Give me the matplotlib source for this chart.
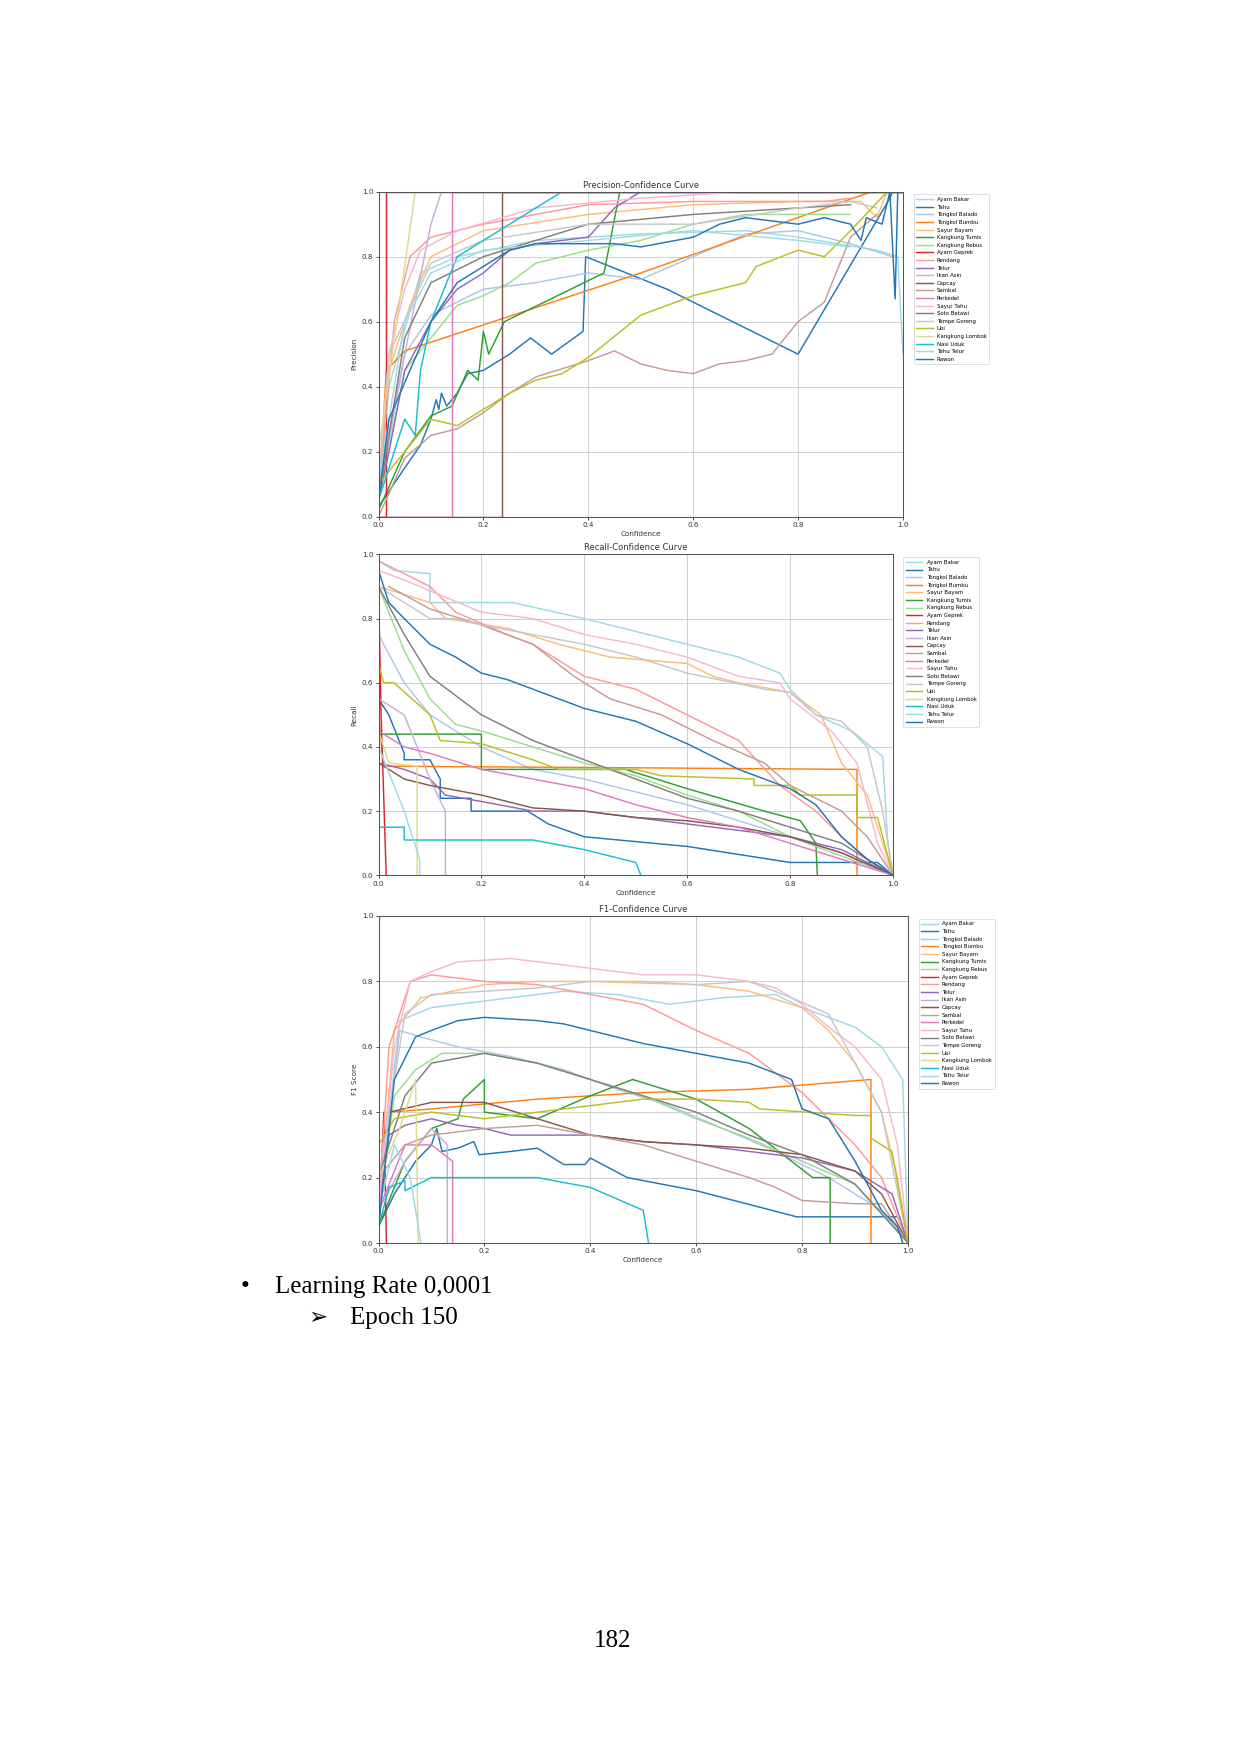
import matplotlib
matplotlib.use("Agg")
import matplotlib.pyplot as plt
import numpy as np

# class names and line colours (legend order)
class_names = ["Ayam Bakar", "Tahu", "Tongkol Balado", "Tongkol Bumbu", "Sayur Bayam",
               "Kangkung Tumis", "Kangkung Rebus", "Ayam Geprek", "Rendang", "Telur",
               "Ikan Asin", "Capcay", "Sambal", "Perkedel", "Sayur Tahu", "Soto Betawi",
               "Tempe Goreng", "Ubi", "Kangkung Lombok", "Nasi Uduk", "Tahu Telur", "Rawon"]
class_colors = ["#9edae5", "#1f77b4", "#aec7e8", "#ff7f0e", "#ffbb78", "#2ca02c", "#98df8a",
                "#d62728", "#ff9896", "#9467bd", "#c5b0d5", "#8c564b", "#c49c94", "#e377c2",
                "#f7b6d2", "#7f7f7f", "#c7c7c7", "#bcbd22", "#dbdb8d", "#17becf", "#9edae5",
                "#1f77b4"]

# precision vs confidence, [conf, value] points per class
prec_curves = [
    [[0, 0.05], [0.02, 0.4], [0.08, 0.75], [0.15, 0.8], [0.3, 0.85], [0.5, 0.87], [0.7, 0.88], [0.8, 0.86], [0.95, 0.82], [0.99, 0.8], [1.0, 0.5]],
    [[0, 0.03], [0.05, 0.15], [0.08, 0.22], [0.1, 0.3], [0.11, 0.36], [0.115, 0.33], [0.12, 0.38], [0.13, 0.34], [0.15, 0.38], [0.17, 0.44], [0.2, 0.45], [0.25, 0.5], [0.29, 0.55], [0.33, 0.5], [0.39, 0.57], [0.395, 0.8], [0.55, 0.7], [0.8, 0.5], [0.975, 0.98], [0.98, 1.0]],
    [[0, 0.05], [0.05, 0.5], [0.1, 0.62], [0.2, 0.7], [0.3, 0.72], [0.4, 0.75], [0.5, 0.73], [0.6, 0.8], [0.7, 0.87], [0.8, 0.88], [0.9, 0.84], [0.98, 0.8]],
    [[0, 0.05], [0.015, 0.45], [0.05, 0.51], [0.5, 0.75], [0.94, 1.0], [1.0, 1.0]],
    [[0, 0.05], [0.02, 0.45], [0.06, 0.65], [0.1, 0.8], [0.2, 0.88], [0.4, 0.93], [0.6, 0.96], [0.8, 0.97], [0.92, 0.97], [0.95, 0.92], [0.97, 1.0]],
    [[0, 0.02], [0.05, 0.2], [0.1, 0.31], [0.14, 0.34], [0.17, 0.45], [0.19, 0.42], [0.2, 0.57], [0.21, 0.5], [0.24, 0.6], [0.43, 0.75], [0.46, 1.0]],
    [[0, 0.05], [0.05, 0.45], [0.1, 0.55], [0.15, 0.65], [0.2, 0.68], [0.25, 0.72], [0.3, 0.78], [0.4, 0.82], [0.5, 0.85], [0.6, 0.9], [0.7, 0.93], [0.9, 0.93]],
    [[0, 0.0], [0.015, 0.0], [0.015, 1.0], [1.0, 1.0]],
    [[0, 0.05], [0.03, 0.6], [0.06, 0.8], [0.1, 0.86], [0.2, 0.9], [0.3, 0.93], [0.4, 0.96], [0.6, 0.97], [0.85, 0.97], [0.9, 0.98]],
    [[0, 0.05], [0.02, 0.2], [0.05, 0.45], [0.1, 0.6], [0.15, 0.7], [0.2, 0.75], [0.25, 0.82], [0.3, 0.84], [0.4, 0.86], [0.45, 0.95], [0.5, 1.0]],
    [[0, 0.1], [0.05, 0.5], [0.1, 0.9], [0.12, 1.0]],
    [[0, 0.0], [0.235, 0.0], [0.235, 1.0], [1.0, 1.0]],
    [[0, 0.0], [0.05, 0.18], [0.1, 0.25], [0.15, 0.27], [0.2, 0.32], [0.25, 0.38], [0.3, 0.43], [0.4, 0.48], [0.45, 0.51], [0.5, 0.47], [0.55, 0.45], [0.6, 0.44], [0.65, 0.47], [0.7, 0.48], [0.75, 0.5], [0.8, 0.6], [0.85, 0.66], [0.9, 0.86], [0.95, 0.93]],
    [[0, 0.0], [0.14, 0.0], [0.14, 1.0], [1.0, 1.0]],
    [[0, 0.1], [0.02, 0.5], [0.05, 0.7], [0.08, 0.82], [0.15, 0.88], [0.3, 0.95], [0.5, 0.98], [0.7, 1.0]],
    [[0, 0.05], [0.05, 0.55], [0.1, 0.72], [0.2, 0.8], [0.3, 0.85], [0.4, 0.9], [0.6, 0.93], [0.8, 0.95], [0.9, 0.96]],
    [[0, 0.1], [0.02, 0.5], [0.1, 0.78], [0.2, 0.85], [0.4, 0.9], [0.6, 0.9], [0.8, 0.95], [0.9, 0.97], [0.95, 0.95]],
    [[0, 0.1], [0.05, 0.2], [0.1, 0.3], [0.15, 0.28], [0.2, 0.33], [0.25, 0.38], [0.3, 0.42], [0.35, 0.44], [0.4, 0.49], [0.5, 0.62], [0.6, 0.68], [0.7, 0.72], [0.72, 0.77], [0.8, 0.82], [0.85, 0.8], [0.9, 0.88], [0.97, 1.0]],
    [[0, 0.2], [0.07, 1.0]],
    [[0, 0.05], [0.05, 0.3], [0.07, 0.25], [0.08, 0.45], [0.1, 0.6], [0.15, 0.8], [0.25, 0.9], [0.35, 1.0]],
    [[0, 0.1], [0.05, 0.6], [0.1, 0.75], [0.2, 0.82], [0.4, 0.85], [0.6, 0.88], [0.8, 0.85], [0.9, 0.83]],
    [[0, 0.05], [0.02, 0.3], [0.1, 0.6], [0.15, 0.72], [0.25, 0.82], [0.3, 0.84], [0.45, 0.84], [0.5, 0.83], [0.6, 0.86], [0.65, 0.9], [0.7, 0.92], [0.8, 0.9], [0.85, 0.92], [0.9, 0.9], [0.92, 0.85], [0.93, 0.92], [0.96, 0.9], [0.975, 1.0], [0.985, 0.67], [0.99, 1.0]],
]

# recall vs confidence
rec_curves = [
    [[0, 0.98], [0.03, 0.95], [0.1, 0.94], [0.1, 0.85], [0.26, 0.85], [0.4, 0.8], [0.5, 0.76], [0.6, 0.72], [0.7, 0.68], [0.78, 0.63], [0.8, 0.58], [0.85, 0.5], [0.92, 0.45], [0.98, 0.37], [0.99, 0.1], [1, 0]],
    [[0, 0.55], [0.02, 0.5], [0.05, 0.38], [0.05, 0.36], [0.1, 0.36], [0.12, 0.3], [0.12, 0.24], [0.18, 0.24], [0.18, 0.2], [0.29, 0.2], [0.33, 0.16], [0.4, 0.12], [0.6, 0.09], [0.8, 0.04], [0.97, 0.04], [1, 0]],
    [[0, 0.75], [0.05, 0.6], [0.1, 0.5], [0.15, 0.45], [0.2, 0.4], [0.3, 0.33], [0.4, 0.3], [0.5, 0.26], [0.6, 0.22], [0.7, 0.17], [0.8, 0.12], [0.9, 0.07], [1, 0]],
    [[0, 0.5], [0.01, 0.34], [0.5, 0.335], [0.93, 0.33], [0.93, 0.0]],
    [[0, 0.9], [0.1, 0.85], [0.13, 0.8], [0.25, 0.77], [0.35, 0.72], [0.45, 0.68], [0.6, 0.66], [0.65, 0.62], [0.7, 0.6], [0.8, 0.57], [0.86, 0.5], [0.9, 0.35], [0.95, 0.25], [1, 0]],
    [[0, 0.44], [0.2, 0.44], [0.2, 0.33], [0.48, 0.33], [0.6, 0.27], [0.75, 0.2], [0.82, 0.17], [0.85, 0.1], [0.853, 0.0]],
    [[0, 0.9], [0.05, 0.7], [0.1, 0.55], [0.15, 0.47], [0.2, 0.45], [0.3, 0.4], [0.4, 0.35], [0.5, 0.31], [0.6, 0.25], [0.7, 0.2], [0.8, 0.12], [0.9, 0.06], [1, 0]],
    [[0, 0.9], [0.005, 0.5], [0.015, 0.0]],
    [[0, 0.98], [0.1, 0.9], [0.15, 0.82], [0.25, 0.75], [0.3, 0.72], [0.4, 0.62], [0.5, 0.58], [0.6, 0.5], [0.7, 0.42], [0.78, 0.28], [0.85, 0.2], [0.9, 0.12], [0.95, 0.05], [1, 0]],
    [[0, 0.35], [0.05, 0.33], [0.1, 0.3], [0.13, 0.25], [0.2, 0.23], [0.3, 0.2], [0.4, 0.2], [0.5, 0.18], [0.6, 0.16], [0.7, 0.14], [0.8, 0.12], [0.9, 0.08], [1, 0]],
    [[0, 0.55], [0.05, 0.5], [0.1, 0.3], [0.13, 0.2], [0.13, 0.0]],
    [[0, 0.35], [0.05, 0.3], [0.1, 0.28], [0.2, 0.25], [0.3, 0.21], [0.4, 0.2], [0.5, 0.18], [0.6, 0.17], [0.7, 0.15], [0.8, 0.12], [0.9, 0.07], [1, 0]],
    [[0.02, 0.9], [0.1, 0.83], [0.2, 0.78], [0.3, 0.72], [0.38, 0.62], [0.45, 0.55], [0.55, 0.5], [0.65, 0.42], [0.75, 0.35], [0.8, 0.28], [0.9, 0.2], [0.95, 0.12], [1, 0]],
    [[0, 0.45], [0.05, 0.4], [0.1, 0.38], [0.2, 0.33], [0.3, 0.3], [0.4, 0.27], [0.5, 0.22], [0.6, 0.18], [0.7, 0.15], [0.8, 0.1], [0.9, 0.05], [1, 0]],
    [[0, 0.95], [0.05, 0.92], [0.2, 0.82], [0.3, 0.8], [0.4, 0.75], [0.5, 0.72], [0.6, 0.68], [0.7, 0.62], [0.78, 0.6], [0.8, 0.55], [0.88, 0.45], [0.93, 0.35], [0.97, 0.1], [1, 0]],
    [[0, 0.9], [0.05, 0.75], [0.1, 0.62], [0.2, 0.5], [0.3, 0.42], [0.4, 0.36], [0.5, 0.3], [0.6, 0.24], [0.7, 0.2], [0.8, 0.15], [0.9, 0.1], [1, 0]],
    [[0, 0.9], [0.1, 0.8], [0.15, 0.8], [0.2, 0.78], [0.3, 0.75], [0.4, 0.72], [0.5, 0.68], [0.6, 0.63], [0.75, 0.58], [0.8, 0.57], [0.85, 0.5], [0.9, 0.48], [0.95, 0.4], [0.98, 0.2], [1, 0]],
    [[0, 0.66], [0.01, 0.6], [0.03, 0.6], [0.1, 0.5], [0.12, 0.42], [0.2, 0.41], [0.3, 0.36], [0.35, 0.33], [0.5, 0.33], [0.55, 0.31], [0.73, 0.3], [0.73, 0.28], [0.8, 0.28], [0.82, 0.25], [0.93, 0.25], [0.93, 0.18], [0.97, 0.18], [1.0, 0.0]],
    [[0, 0.45], [0.02, 0.35], [0.075, 0.34], [0.075, 0.0]],
    [[0, 0.15], [0.05, 0.15], [0.05, 0.11], [0.3, 0.11], [0.4, 0.08], [0.5, 0.04], [0.51, 0.0]],
    [[0, 0.4], [0.05, 0.2], [0.08, 0.05], [0.08, 0.0]],
    [[0, 0.95], [0.02, 0.85], [0.05, 0.8], [0.1, 0.72], [0.15, 0.68], [0.2, 0.63], [0.25, 0.61], [0.3, 0.58], [0.4, 0.52], [0.5, 0.48], [0.6, 0.41], [0.7, 0.33], [0.8, 0.27], [0.85, 0.22], [0.9, 0.12], [0.95, 0.05], [1, 0]],
]

# F1 vs confidence
f1_curves = [
    [[0, 0.1], [0.04, 0.68], [0.1, 0.72], [0.2, 0.74], [0.35, 0.77], [0.45, 0.76], [0.55, 0.73], [0.65, 0.75], [0.75, 0.76], [0.8, 0.72], [0.9, 0.66], [0.95, 0.6], [0.99, 0.5], [1, 0]],
    [[0, 0.05], [0.03, 0.15], [0.05, 0.2], [0.07, 0.25], [0.1, 0.3], [0.11, 0.35], [0.12, 0.28], [0.15, 0.29], [0.18, 0.31], [0.19, 0.27], [0.25, 0.28], [0.3, 0.29], [0.35, 0.24], [0.39, 0.24], [0.4, 0.26], [0.47, 0.2], [0.6, 0.16], [0.79, 0.08], [0.98, 0.08]],
    [[0, 0.1], [0.04, 0.65], [0.08, 0.63], [0.15, 0.6], [0.25, 0.57], [0.35, 0.53], [0.45, 0.47], [0.55, 0.42], [0.65, 0.35], [0.75, 0.28], [0.85, 0.2], [0.95, 0.1], [1, 0]],
    [[0.02, 0.4], [0.1, 0.41], [0.3, 0.44], [0.5, 0.46], [0.7, 0.47], [0.93, 0.5], [0.93, 0.0]],
    [[0, 0.1], [0.03, 0.65], [0.08, 0.75], [0.2, 0.79], [0.3, 0.8], [0.4, 0.8], [0.6, 0.79], [0.7, 0.77], [0.8, 0.72], [0.85, 0.65], [0.9, 0.55], [0.95, 0.4], [0.98, 0.2], [1, 0]],
    [[0, 0.05], [0.05, 0.25], [0.1, 0.35], [0.15, 0.38], [0.16, 0.44], [0.2, 0.5], [0.2, 0.4], [0.3, 0.38], [0.4, 0.45], [0.48, 0.5], [0.6, 0.44], [0.7, 0.35], [0.78, 0.25], [0.82, 0.2], [0.853, 0.2], [0.853, 0.0]],
    [[0, 0.1], [0.03, 0.45], [0.07, 0.53], [0.12, 0.58], [0.2, 0.58], [0.3, 0.55], [0.4, 0.5], [0.5, 0.45], [0.6, 0.38], [0.7, 0.32], [0.8, 0.25], [0.9, 0.18], [1, 0]],
    [[0, 0.0], [0.01, 0.4], [0.015, 0.0]],
    [[0, 0.1], [0.02, 0.6], [0.06, 0.8], [0.1, 0.82], [0.2, 0.8], [0.3, 0.79], [0.4, 0.76], [0.5, 0.73], [0.6, 0.65], [0.7, 0.58], [0.8, 0.46], [0.85, 0.38], [0.9, 0.3], [0.95, 0.2], [1, 0]],
    [[0, 0.1], [0.02, 0.33], [0.05, 0.36], [0.1, 0.38], [0.15, 0.36], [0.2, 0.35], [0.25, 0.33], [0.4, 0.33], [0.5, 0.31], [0.6, 0.3], [0.7, 0.28], [0.8, 0.26], [0.9, 0.22], [0.97, 0.15], [1, 0]],
    [[0, 0.1], [0.05, 0.25], [0.1, 0.35], [0.13, 0.3], [0.13, 0.0]],
    [[0.02, 0.4], [0.1, 0.43], [0.2, 0.43], [0.3, 0.38], [0.4, 0.33], [0.5, 0.31], [0.6, 0.3], [0.7, 0.29], [0.8, 0.27], [0.9, 0.22], [0.95, 0.15], [1, 0]],
    [[0, 0.2], [0.05, 0.3], [0.1, 0.33], [0.2, 0.35], [0.3, 0.36], [0.4, 0.33], [0.5, 0.3], [0.6, 0.25], [0.7, 0.2], [0.75, 0.17], [0.8, 0.13], [0.9, 0.12], [0.95, 0.12], [1, 0]],
    [[0, 0.1], [0.05, 0.3], [0.1, 0.3], [0.14, 0.25], [0.14, 0.0]],
    [[0, 0.1], [0.03, 0.6], [0.06, 0.8], [0.1, 0.83], [0.15, 0.86], [0.25, 0.87], [0.3, 0.86], [0.4, 0.84], [0.5, 0.82], [0.6, 0.82], [0.7, 0.8], [0.75, 0.78], [0.8, 0.73], [0.85, 0.66], [0.9, 0.6], [0.95, 0.5], [0.98, 0.3], [1, 0]],
    [[0, 0.2], [0.05, 0.45], [0.1, 0.55], [0.2, 0.58], [0.3, 0.55], [0.4, 0.5], [0.5, 0.45], [0.6, 0.4], [0.7, 0.33], [0.8, 0.27], [0.9, 0.18], [1, 0]],
    [[0, 0.2], [0.05, 0.7], [0.1, 0.76], [0.3, 0.78], [0.4, 0.8], [0.5, 0.8], [0.6, 0.79], [0.7, 0.8], [0.78, 0.75], [0.85, 0.7], [0.9, 0.55], [0.95, 0.4], [1, 0]],
    [[0, 0.3], [0.03, 0.38], [0.1, 0.4], [0.2, 0.38], [0.3, 0.4], [0.45, 0.43], [0.5, 0.44], [0.6, 0.44], [0.7, 0.43], [0.72, 0.41], [0.9, 0.39], [0.93, 0.39], [0.93, 0.32], [0.97, 0.28], [1, 0]],
    [[0, 0.2], [0.04, 0.35], [0.07, 0.5], [0.075, 0.0]],
    [[0, 0.05], [0.02, 0.17], [0.05, 0.19], [0.05, 0.16], [0.1, 0.2], [0.3, 0.2], [0.4, 0.17], [0.5, 0.1], [0.51, 0.0]],
    [[0, 0.1], [0.03, 0.3], [0.06, 0.2], [0.08, 0.0]],
    [[0, 0.05], [0.03, 0.5], [0.07, 0.63], [0.1, 0.65], [0.15, 0.68], [0.2, 0.69], [0.3, 0.68], [0.35, 0.67], [0.4, 0.65], [0.5, 0.61], [0.6, 0.58], [0.7, 0.55], [0.78, 0.5], [0.8, 0.41], [0.85, 0.38], [0.9, 0.25], [0.95, 0.1], [0.98, 0.05], [0.99, 0.0]],
]

W, H = 1241, 1754
fig = plt.figure(figsize=(W / 150, H / 150), dpi=150, facecolor="white")


def curve_panel(rect, curves, title, ylabel):
    ax = fig.add_axes(rect)
    for name, color, pts in zip(class_names, class_colors, curves):
        arr = np.array(pts)
        ax.plot(arr[:, 0], arr[:, 1], lw=0.7, color=color, label=name)
    ax.set_xlim(0, 1)
    ax.set_ylim(0, 1)
    ax.set_xticks(np.arange(0, 1.01, 0.2))
    ax.set_yticks(np.arange(0, 1.01, 0.2))
    ax.grid(True, color="#c8c8c8", lw=0.4)
    ax.set_title(title, fontsize=4, pad=2, color="#333333")
    ax.set_xlabel("Confidence", fontsize=3.5, labelpad=1.5, color="#333333")
    ax.set_ylabel(ylabel, fontsize=3.5, labelpad=2, color="#333333")
    ax.tick_params(labelsize=3.5, width=0.4, length=1.5, pad=1, colors="#333333")
    for s in ax.spines.values():
        s.set_linewidth(0.5)
        s.set_color("#555555")
    leg = ax.legend(loc="upper left", bbox_to_anchor=(1.015, 1.0), fontsize=2.6,
                    handlelength=3, borderpad=0.5, labelspacing=0.48, framealpha=1)
    leg.get_frame().set_linewidth(0.3)
    return ax


def px_rect(left, top, right, bottom):
    return [left / W, 1 - bottom / H, (right - left) / W, (bottom - top) / H]


curve_panel(px_rect(378.5, 191.7, 903, 516.6), prec_curves, "Precision-Confidence Curve", "Precision")
curve_panel(px_rect(378.5, 554.4, 893, 875.3), rec_curves, "Recall-Confidence Curve", "Recall")
curve_panel(px_rect(378.5, 916, 908, 1243), f1_curves, "F1-Confidence Curve", "F1 Score")

# document text below the charts
serif = ["Liberation Serif", "DejaVu Serif"]
fig.text(241 / W, 1 - 1287 / H, "\u2022", fontsize=12, family=serif, va="center")
fig.text(275 / W, 1 - 1287 / H, "Learning Rate 0,0001", fontsize=12, family=serif, va="center")
fig.text(308 / W, 1 - 1318 / H, "\u27a2", fontsize=11, family=["DejaVu Sans"], va="center")
fig.text(350 / W, 1 - 1318 / H, "Epoch 150", fontsize=12, family=serif, va="center")
fig.text(613 / W, 1 - 1641 / H, "182", fontsize=12, family=serif, va="center", ha="center")

fig.savefig("out.png", dpi=150, facecolor="white")
